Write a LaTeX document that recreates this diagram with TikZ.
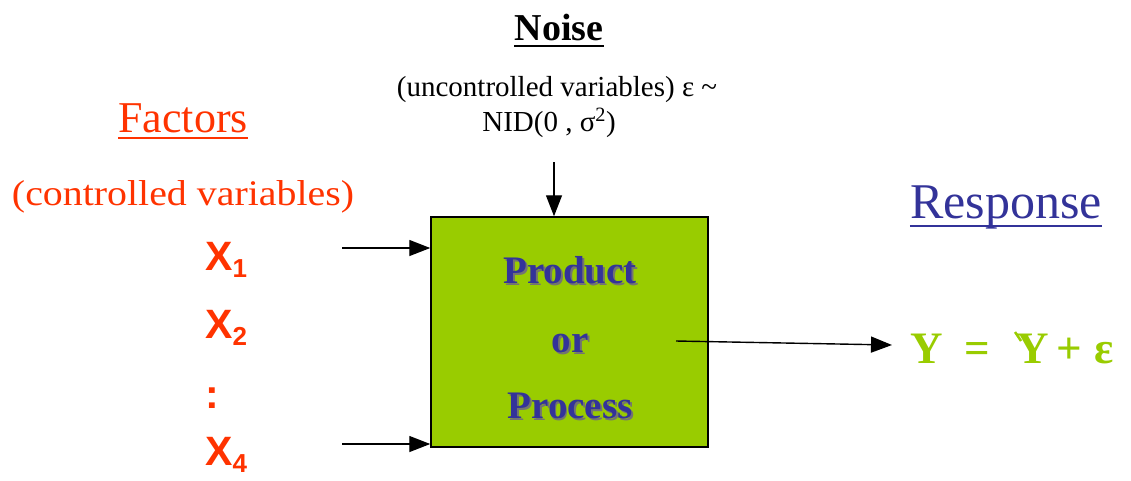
\documentclass[tikz,border=0pt]{standalone}
\usepackage{fontspec}
\setmainfont{Liberation Serif}
\setsansfont{Liberation Sans}
\usetikzlibrary{arrows.meta}
\definecolor{factorred}{HTML}{FF3300}
\definecolor{boxgreen}{HTML}{99CC00}
\definecolor{respblue}{HTML}{333399}
\tikzset{
  txt/.style={inner sep=0pt, anchor=base},
  flow/.style={line width=1.4pt, -{Triangle[length=21pt,width=16pt]}},
  uline/.style={line width=2pt},
  factor/.style={txt, text=factorred, font=\sffamily\bfseries\fontsize{41}{41}\selectfont},
  boxlabel/.style={txt, text=respblue, font=\bfseries\fontsize{39}{39}\selectfont},
  boxshadow/.style={txt, text=black!55, font=\bfseries\fontsize{39}{39}\selectfont},
  resp/.style={txt, text=boxgreen, font=\bfseries\fontsize{45}{45}\selectfont},
}
\newcommand{\subidx}[1]{\raisebox{-7pt}{\fontsize{26}{26}\selectfont #1}}
\begin{document}
\begin{tikzpicture}[x=1pt, y=-1pt]
\useasboundingbox (0,0) rectangle (1131,480);

% noise source
\node[txt, font=\bfseries\fontsize{38}{38}\selectfont] (noise) at (559,40) {Noise};
\draw[uline] ([yshift=-6pt]noise.base west) -- ([yshift=-6pt]noise.base east);
\node[txt, font=\fontsize{29}{29}\selectfont] (unc) at (557,96) {(uncontrolled variables) ε \char"7E};
\node[txt, font=\fontsize{29}{29}\selectfont] (nid) at (549,131) {NID(0 , σ\textsuperscript{2})};

% factors
\node[txt, text=factorred, font=\fontsize{44}{44}\selectfont] (factors) at (183,132) {Factors};
\draw[uline, factorred] ([yshift=-6pt]factors.base west) -- ([yshift=-6pt]factors.base east);
\node[txt, text=factorred, font=\fontsize{36}{36}\selectfont] (ctrl) at (183,205)
  {\resizebox{342pt}{\height}{(controlled variables)}};
\node[factor, anchor=base west] (x1) at (205,270) {X\subidx{1}};
\node[factor, anchor=base west] (x2) at (205,338) {X\subidx{2}};
\node[factor] (dots) at (212,408) {:};
\node[factor, anchor=base west] (x4) at (205,465) {X\subidx{4}};

% process box
\node[draw=black, line width=1.5pt, fill=boxgreen, minimum width=277pt,
      minimum height=230pt, inner sep=0pt] (box) at (569.5,332) {};
\foreach \w/\y [count=\i] in {Product/283, or/352, Process/418}{
  \node[boxshadow] (sh\i) at (572,\y+2) {\w};
  \node[boxlabel] (lb\i) at (570,\y) {\w};
}

% connectors
\coordinate (nz) at (554,162);
\draw[flow] (nz) -- (nz |- box.north);
\coordinate (in1) at (342,248);
\coordinate (in4) at (342,444);
\draw[flow] (in1) -- (in1 -| box.west);
\draw[flow] (in4) -- (in4 -| box.west);
\coordinate (out0) at (676,341);
\coordinate (out1) at (892,345);
\draw[flow] (out0) -- (out1);

% response
\node[txt, text=respblue, font=\fontsize{50}{50}\selectfont] (response) at (1006,218) {Response};
\draw[uline, respblue] ([yshift=-8pt]response.base west) -- ([yshift=-8pt]response.base east);
\node[resp] (y1) at (927,363) {Y};
\node[resp] (eq) at (977,363) {=};
\node[resp] (y2) at (1033,363) {Y};
\draw[boxgreen, line width=2.5pt] (1015,332) -- (1021,341);
\node[resp] (plus) at (1069,363) {+};
\node[resp] (eps) at (1104,363) {ε};
\end{tikzpicture}
\end{document}
